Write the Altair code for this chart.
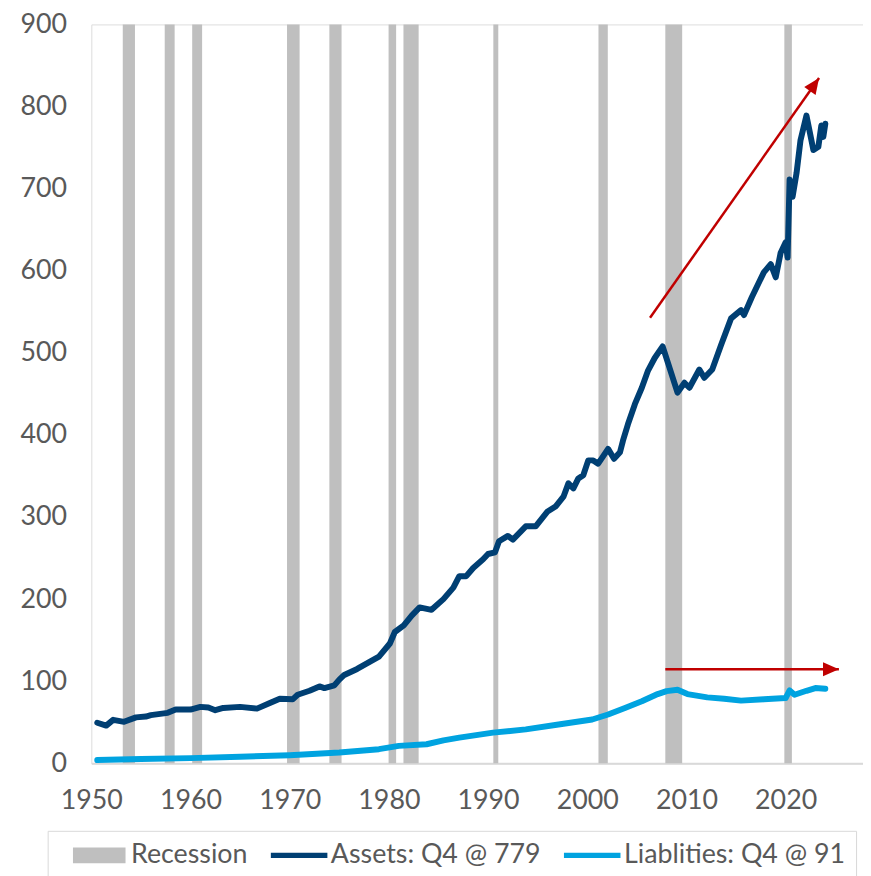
import altair as alt
import pandas as pd

# ---------------- data ----------------
assets_years = [1950.6, 1951.5, 1952.2, 1953.3, 1954.5, 1955.5, 1956.0, 1957.7, 1958.5, 1960.0,
                1961.0, 1961.8, 1962.5, 1963.3, 1965.0, 1966.7, 1968.0, 1969.0, 1970.3, 1970.8,
                1972.0, 1973.0, 1973.5, 1974.5, 1975.0, 1975.5, 1976.8, 1978.1, 1979.0, 1980.1,
                1980.6, 1981.5, 1982.3, 1983.1, 1984.3, 1985.5, 1986.5, 1987.1, 1987.8, 1988.5,
                1989.5, 1990.0, 1990.7, 1991.1, 1992.0, 1992.5, 1993.8, 1994.8, 1996.0, 1996.8,
                1997.6, 1998.1, 1998.6, 1999.1, 1999.6, 2000.1, 2000.6, 2001.1, 2002.1, 2002.7,
                2003.3, 2003.6, 2004.1, 2004.8, 2005.5, 2006.1, 2006.8, 2007.6, 2009.1, 2009.8,
                2010.3, 2011.3, 2011.8, 2012.6, 2013.5, 2014.5, 2015.5, 2015.8, 2016.6, 2017.8,
                2018.5, 2019.0, 2019.5, 2020.0, 2020.2, 2020.4, 2020.7, 2021.1, 2021.5, 2022.1,
                2022.8, 2023.3, 2023.6, 2023.8, 2024.0]
assets_values = [49.5, 46, 53, 50.6, 56, 57, 58.7, 61.5, 65.5, 65.5,
                 68.8, 68, 64.8, 67.5, 68.8, 66.7, 73.6, 78.8, 78, 83.6,
                 88.4, 93.7, 91.7, 95, 102, 107.7, 115, 123.9, 130, 146,
                 160, 168, 180, 190, 187, 200, 214, 228, 228, 238,
                 248.5, 255, 257, 270.6, 277, 272.6, 288.7, 288.7, 306.8, 312.8,
                 324.8, 341, 335, 347, 351, 369, 369, 365, 383, 371,
                 379, 393, 413, 437.5, 457.5, 477.7, 493.7, 507.8, 451.5, 463.6,
                 457.5, 479.7, 469.6, 479.7, 509.9, 542, 552, 546, 568, 598,
                 608, 592, 622, 634.5, 616, 711, 690, 719, 759, 789,
                 747, 751, 777, 763, 779]

liab_years = [1950.6, 1955.0, 1960.0, 1965.0, 1970.0, 1975.0, 1979.0, 1981.0, 1983.8, 1985.5,
              1987.1, 1990.5, 1993.8, 1997.1, 2000.5, 2002.1, 2003.8, 2005.5, 2007.1, 2008.0,
              2009.1, 2010.1, 2012.1, 2013.8, 2015.5, 2017.8, 2020.0, 2020.4, 2020.9, 2022.1,
              2023.0, 2024.0]
liab_values = [4, 5.2, 6.4, 8, 10, 13.3, 17.3, 21.3, 23.3, 28,
               31.4, 37.4, 41.4, 47.4, 53.4, 59.5, 67.5, 75.6, 84.4, 88,
               89.6, 84.4, 80.4, 78.8, 76.4, 78, 79.6, 88.9, 83.6, 88.4,
               91.7, 90.8]

rec_start = [1953.17, 1957.4, 1960.17, 1969.73, 1974.0, 1979.97, 1981.47, 1990.53, 2001.13, 2007.87, 2019.87]
rec_end = [1954.4, 1958.4, 1961.17, 1971.0, 1975.23, 1980.73, 1983.0, 1991.03, 2002.07, 2009.57, 2020.63]

arrow_x0 = [2006.33, 2007.87]
arrow_y0 = [542.8, 114.6]
arrow_x1 = [2023.37, 2025.37]
arrow_y1 = [834.7, 114.6]
arrow_angle = [305.15, 0]

series_names = ["Recession", "Assets: Q4 @ 779", "Liablities: Q4 @ 91"]
series_colors = ["#BFBFBF", "#003F73", "#00A3E0"]
x_ticks = [1950, 1960, 1970, 1980, 1990, 2000, 2010, 2020]
y_ticks = [0, 100, 200, 300, 400, 500, 600, 700, 800, 900]

# ---------------- frames ----------------
rec_df = pd.DataFrame({"start": rec_start, "end": rec_end, "series": series_names[0]})
lines_df = pd.concat([
    pd.DataFrame({"year": assets_years, "value": assets_values, "series": series_names[1]}),
    pd.DataFrame({"year": liab_years, "value": liab_values, "series": series_names[2]}),
])
arrow_df = pd.DataFrame({"x0": arrow_x0, "y0": arrow_y0, "x1": arrow_x1, "y1": arrow_y1,
                         "angle": arrow_angle})

TXT = "#595959"
FONT = "Lato"

xscale = alt.Scale(domain=[1950, 2027.8], nice=False, zero=False)
yscale = alt.Scale(domain=[0, 900], nice=False)

# legend symbol paths (unit = 10px with symbolSize 400)
RECT_PATH = "M-2.65,-0.8H2.65V0.8H-2.65Z"
LINE_PATH = "M-2.85,-0.27H2.85V0.27H-2.85Z"
is_rec = "datum.value === 'Recession'"
is_assets = "datum.value === 'Assets: Q4 @ 779'"

legend = alt.Legend(
    title=None, orient="none", direction="horizontal",
    legendX=-44, legendY=813,
    symbolType={"expr": f"{is_rec} ? '{RECT_PATH}' : '{LINE_PATH}'"},
    symbolFillColor={"expr": f"{is_rec} ? '{series_colors[0]}' : ({is_assets} ? '{series_colors[1]}' : '{series_colors[2]}')"},
    symbolStrokeColor="transparent",
    symbolStrokeWidth=0,
    symbolSize=400, symbolOpacity=1, symbolOffset=27.5,
    labelFont=FONT, labelFontSize=27, labelColor=TXT, labelOffset=18.5,
    columnPadding=10.5, padding=11, strokeColor="#D9D9D9", fillColor="white",
    labelLimit=400,
)
color = alt.Color("series:N", scale=alt.Scale(domain=series_names, range=series_colors), legend=legend)

xaxis = alt.Axis(values=x_ticks, format="d", title=None, ticks=False, grid=False,
                 domainColor="#D9D9D9", domainWidth=2, labelFont=FONT, labelFontSize=27,
                 labelColor=TXT, labelPadding=25, labelFlush=False)
yaxis = alt.Axis(values=y_ticks, title=None, ticks=False, grid=False, domain=False,
                 labelFont=FONT, labelFontSize=27, labelColor=TXT, labelPadding=25)

rects = alt.Chart(rec_df).mark_rect().encode(
    x=alt.X("start:Q", scale=xscale, axis=xaxis),
    x2="end:Q",
    y=alt.Y(datum=900, scale=yscale, axis=yaxis),
    y2=alt.Y2(datum=0),
    color=color,
)

lines = alt.Chart(lines_df).mark_line(strokeWidth=6, strokeJoin="round", strokeCap="round").encode(
    x=alt.X("year:Q", scale=xscale),
    y=alt.Y("value:Q", scale=yscale),
    color=color,
)

shafts = alt.Chart(arrow_df).mark_rule(color="#C00000", strokeWidth=2.5).encode(
    x="x0:Q", y="y0:Q", x2="x1:Q", y2="y1:Q",
)
heads = alt.Chart(arrow_df).mark_point(
    shape="M0,0L-2,-0.875L-2,0.875Z", filled=True, size=256, color="#C00000", opacity=1,
).encode(
    x="x1:Q", y="y1:Q", angle=alt.Angle("angle:Q", scale=None),
)

chart = alt.layer(rects, lines, shafts, heads).properties(
    width=778, height=745,
    autosize=alt.AutoSizeParams(type="none"),
    padding={"left": 84, "top": 13, "right": 0, "bottom": 110},
).configure_view(stroke=None).configure(background="white")

chart.save("out.html", embed_options={"renderer": "svg", "actions": False})
